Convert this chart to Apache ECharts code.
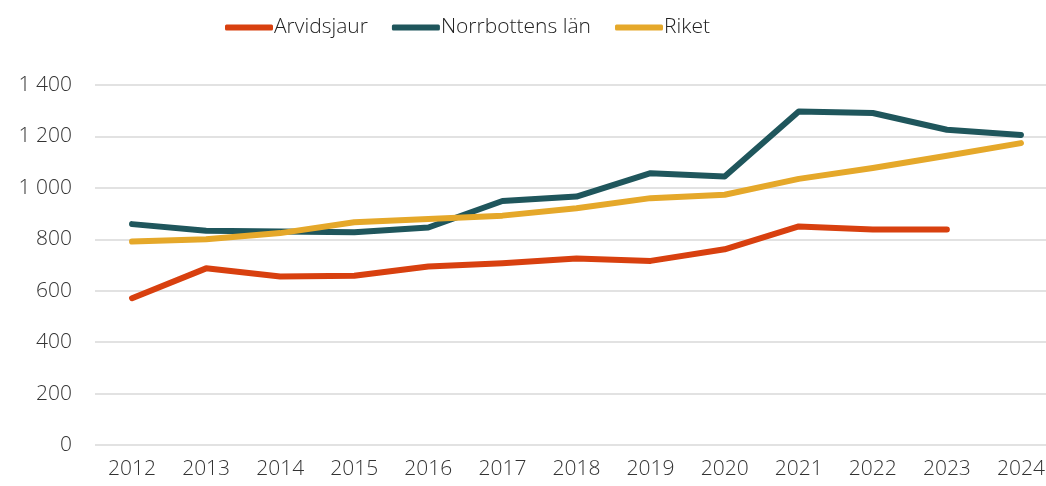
<!DOCTYPE html>
<html>
<head>
<meta charset="utf-8">
<script src="https://cdn.jsdelivr.net/npm/echarts@6/dist/echarts.min.js"></script>
<style>
  html, body { margin: 0; padding: 0; background: #fff; }
  #main { width: 1046px; height: 486px; }
</style>
</head>
<body>
<div id="main"></div>
<script type="text/javascript">
    var years = ['2012','2013','2014','2015','2016','2017','2018','2019','2020','2021','2022','2023','2024'];
    var arvidsjaur = [571, 687, 655, 658, 694, 707, 725, 716, 761, 850, 838, 838, null];
    var norrbotten = [859, 833, 830, 827, 846, 949, 966, 1057, 1044, 1297, 1291, 1226, 1206];
    var riket = [791, 800, 824, 866, 879, 892, 921, 960, 973, 1035, 1077, 1125, 1174];
    var seriesNames = ['Arvidsjaur', 'Norrbottens län', 'Riket'];
    var colors = ['#D8400F', '#1F565C', '#E5A82A'];

    var font = '"Open Sans", sans-serif';
    var myChart = echarts.init(document.getElementById('main'));

    function makeLine(name, data, i){
        return {
            name: name,
            type: 'line',
            data: data,
            symbol: 'none',
            lineStyle: { width: 6, color: colors[i], cap: 'round', join: 'round' },
            itemStyle: { color: colors[i] }
        };
    }

    var myOption = {
        animation: false,
        color: colors,
        legend: {
            top: 12,
            left: 220,
            icon: 'roundRect',
            itemWidth: 48,
            itemHeight: 6,
            itemGap: 24,
            textStyle: { fontFamily: font, fontWeight: 300, fontSize: 21, color: '#222', padding: [0, 0, 0, -4] },
            data: seriesNames
        },
        grid: { left: 95, top: 85, right: -12, bottom: 41, outerBoundsMode: 'none', containLabel: false },
        xAxis: {
            type: 'category',
            data: years,
            boundaryGap: true,
            axisLine: { show: false },
            axisTick: { show: false },
            axisLabel: { fontFamily: font, fontWeight: 300, fontSize: 21, color: '#333', margin: 14, hideOverlap: false }
        },
        yAxis: {
            type: 'value',
            min: 0,
            max: 1400,
            interval: 200,
            axisLine: { show: false },
            axisTick: { show: false },
            splitLine: { lineStyle: { color: '#d9d9d9', width: 1.5 } },
            axisLabel: {
                fontFamily: font, fontWeight: 300, fontSize: 21, color: '#333', margin: 23,
                formatter: function(v){ return String(v).replace(/\B(?=(\d{3})+(?!\d))/g, ' '); }
            }
        },
        series: [
            makeLine(seriesNames[0], arvidsjaur, 0),
            makeLine(seriesNames[1], norrbotten, 1),
            makeLine(seriesNames[2], riket, 2)
        ]
    };

    myChart.setOption(myOption);
</script>
</body>
</html>
